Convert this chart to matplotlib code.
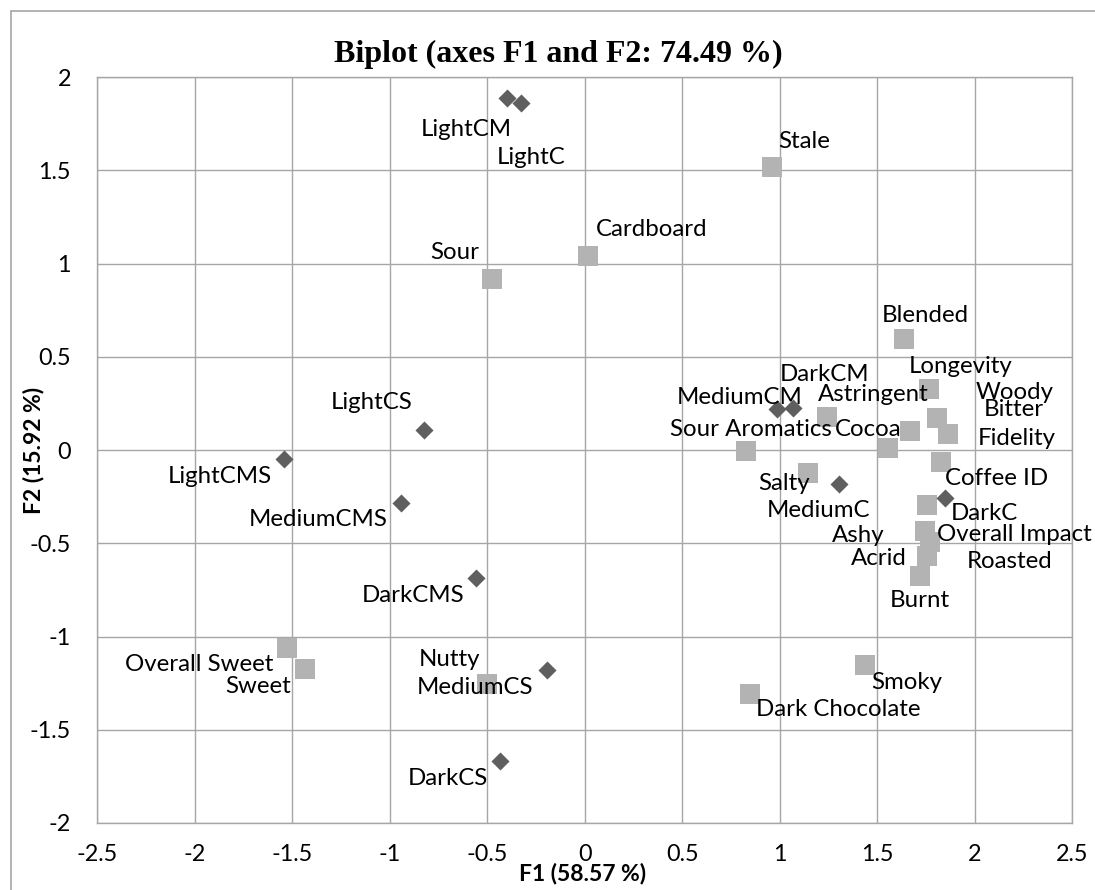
import matplotlib.pyplot as plt
from matplotlib.patches import Rectangle

# observations (roast / brew products)
obs_names = ['LightCM', 'LightC', 'LightCS', 'LightCMS', 'MediumCMS', 'DarkCMS',
             'MediumCS', 'DarkCS', 'MediumCM', 'DarkCM', 'MediumC', 'DarkC']
obs_f1 = [-0.40, -0.33, -0.826, -1.542, -0.945, -0.559,
          -0.196, -0.436, 0.983, 1.068, 1.304, 1.846]
obs_f2 = [1.89, 1.86, 0.107, -0.050, -0.282, -0.688,
          -1.181, -1.670, 0.218, 0.227, -0.180, -0.255]

# variables (sensory attributes)
var_names = ['Stale', 'Cardboard', 'Sour', 'Sour Aromatics', 'Blended', 'Longevity',
             'Astringent', 'Woody', 'Bitter', 'Cocoa', 'Roasted', 'Fidelity',
             'Coffee ID', 'Ashy', 'Overall Impact', 'Acrid', 'Salty', 'Burnt',
             'Smoky', 'Dark Chocolate', 'Nutty', 'Overall Sweet', 'Sweet']
var_f1 = [0.957, 0.017, -0.475, 0.824, 1.636, 1.766,
          1.239, 1.807, 1.860, 1.667, 1.555, 1.824,
          1.752, 1.742, 1.771, 1.754, 1.145, 1.718,
          1.436, 0.848, -0.501, -1.527, -1.436]
var_f2 = [1.519, 1.040, 0.918, -0.003, 0.597, 0.329,
          0.177, 0.174, 0.084, 0.102, 0.013, -0.062,
          -0.296, -0.432, -0.494, -0.566, -0.121, -0.675,
          -1.152, -1.306, -1.257, -1.059, -1.172]

xticks = [-2.5, -2, -1.5, -1, -0.5, 0, 0.5, 1, 1.5, 2, 2.5]
yticks = [-2, -1.5, -1, -0.5, 0, 0.5, 1, 1.5, 2]

# where each label sits relative to its marker (pixels, y up)
label_offset = {
    'LightCM': (-41, -32), 'LightC': (11, -54), 'LightCS': (-52, 28),
    'LightCMS': (-64, -17), 'MediumCMS': (-82, -17), 'DarkCMS': (-63, -17),
    'MediumCS': (-72, -17), 'DarkCS': (-52, -17), 'MediumCM': (-37, 12),
    'DarkCM': (31, 33), 'MediumC': (-21, -27), 'DarkC': (39, -16),
    'Stale': (33, 25), 'Cardboard': (63, 27), 'Sour': (-38, 26),
    'Sour Aromatics': (5, 21), 'Blended': (21, 23), 'Longevity': (31, 22),
    'Astringent': (47, 23), 'Woody': (77, 25), 'Bitter': (66, 25),
    'Cocoa': (-42, 2), 'Roasted': (121, -114), 'Fidelity': (76, 23),
    'Coffee ID': (70, 27), 'Ashy': (-66, -5), 'Overall Impact': (84, 8),
    'Acrid': (-48, -3), 'Salty': (-24, -11), 'Burnt': (0, -25),
    'Smoky': (42, -18), 'Dark Chocolate': (88, -16), 'Nutty': (-38, 25),
    'Overall Sweet': (-88, -17), 'Sweet': (-47, -18),
}

fig = plt.figure(figsize=(10.95, 8.9), dpi=100)
ax = fig.add_axes([0.089, 0.0753, 0.8904, 0.8379])

grey = '#a6a6a6'
ax.scatter(var_f1, var_f2, marker='s', s=13.7**2, color='#b3b3b3',
           linewidths=0, zorder=3)
ax.scatter(obs_f1, obs_f2, marker='D', s=9.2**2, color='#5f5f5f',
           linewidths=0, zorder=4)

for names, xs, ys in [(var_names, var_f1, var_f2), (obs_names, obs_f1, obs_f2)]:
    for name, x, y in zip(names, xs, ys):
        dx, dy = label_offset[name]
        ax.annotate(name, (x, y), xytext=(dx, dy), textcoords='offset pixels',
                    ha='center', va='center', fontsize=17.3, family='Lato',
                    color='black', zorder=5)

ax.set_xlim(-2.5, 2.5)
ax.set_ylim(-2, 2)
ax.set_xticks(xticks)
ax.set_yticks(yticks)
ax.set_xticklabels([f'{t:g}' for t in xticks], family='Lato', fontsize=16.8)
ax.set_yticklabels([f'{t:g}' for t in yticks], family='Lato', fontsize=16.8)
ax.tick_params(length=0)
ax.tick_params(axis='y', pad=19)
ax.tick_params(axis='x', pad=15)
ax.grid(True, color=grey, linewidth=1.0, zorder=0)
ax.set_axisbelow(True)
for sp in ax.spines.values():
    sp.set_color(grey)
    sp.set_linewidth(1.0)

fig.text(0.51, 1 - 62 / 890, 'Biplot (axes F1 and F2: 74.49 %)', ha='center',
         va='baseline', family='Liberation Serif', fontweight='bold', fontsize=23)
fig.text(583 / 1095, 1 - 874 / 890, 'F1 (58.57 %)', ha='center', va='center',
         family='Lato', fontweight='bold', fontsize=16.5)
fig.text(33 / 1095, 1 - 450 / 890, 'F2 (15.92 %)', ha='center', va='center',
         rotation=90, family='Lato', fontweight='bold', fontsize=16.5)

# outer chart frame
fig.patches.append(Rectangle((11 / 1095, -0.1), 1.2, 1.1 - 11 / 890,
                             transform=fig.transFigure, fill=False,
                             edgecolor=grey, linewidth=1.2))

fig.savefig('out.png', dpi=100)
